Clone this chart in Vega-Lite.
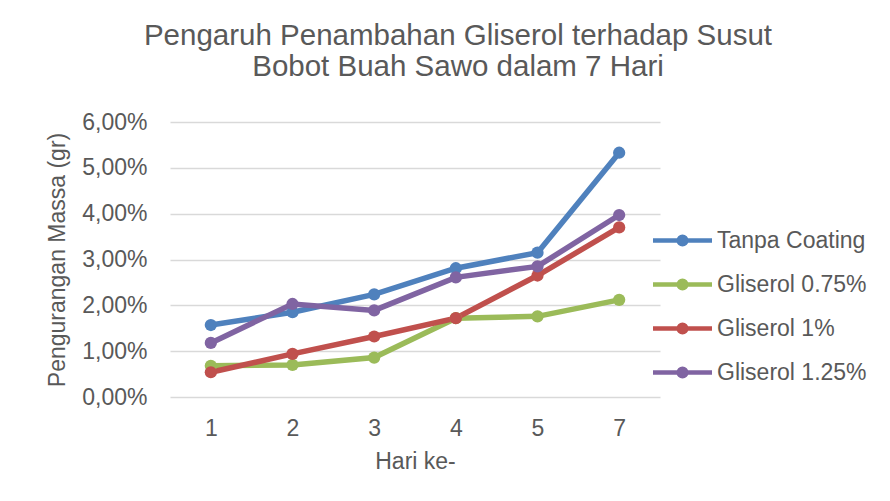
{
  "$schema": "https://vega.github.io/schema/vega-lite/v6.json",
  "width": 490,
  "height": 275,
  "autosize": {"type": "none"},
  "padding": {"left": 170, "top": 122, "right": 230, "bottom": 104},
  "background": "white",
  "title": {
    "text": ["Pengaruh Penambahan Gliserol terhadap Susut", "Bobot Buah Sawo dalam 7 Hari"],
    "fontSize": 29.5,
    "lineHeight": 31,
    "font": "Liberation Sans",
    "fontWeight": "normal",
    "color": "#595959",
    "anchor": "middle",
    "dx": 43,
    "offset": 29
  },
  "config": {
    "font": "Liberation Sans",
    "view": {"stroke": null},
    "axis": {
      "labelFont": "Liberation Sans",
      "titleFont": "Liberation Sans",
      "labelColor": "#595959",
      "titleColor": "#595959",
      "labelFontSize": 23,
      "titleFontSize": 23,
      "titleFontWeight": "normal",
      "domain": false,
      "ticks": false
    },
    "legend": {
      "labelFont": "Liberation Sans",
      "labelColor": "#595959",
      "labelFontSize": 23
    }
  },
  "data": {
    "values": [
      {"hari": "1", "seri": "Tanpa Coating", "nilai": 0.0157},
      {"hari": "2", "seri": "Tanpa Coating", "nilai": 0.0185},
      {"hari": "3", "seri": "Tanpa Coating", "nilai": 0.0224},
      {"hari": "4", "seri": "Tanpa Coating", "nilai": 0.0281},
      {"hari": "5", "seri": "Tanpa Coating", "nilai": 0.0315},
      {"hari": "7", "seri": "Tanpa Coating", "nilai": 0.0533},
      {"hari": "1", "seri": "Gliserol 0.75%", "nilai": 0.0068},
      {"hari": "2", "seri": "Gliserol 0.75%", "nilai": 0.0070},
      {"hari": "3", "seri": "Gliserol 0.75%", "nilai": 0.0086},
      {"hari": "4", "seri": "Gliserol 0.75%", "nilai": 0.0172},
      {"hari": "5", "seri": "Gliserol 0.75%", "nilai": 0.0176},
      {"hari": "7", "seri": "Gliserol 0.75%", "nilai": 0.0212},
      {"hari": "1", "seri": "Gliserol 1%", "nilai": 0.0054},
      {"hari": "2", "seri": "Gliserol 1%", "nilai": 0.0094},
      {"hari": "3", "seri": "Gliserol 1%", "nilai": 0.0132},
      {"hari": "4", "seri": "Gliserol 1%", "nilai": 0.0172},
      {"hari": "5", "seri": "Gliserol 1%", "nilai": 0.0265},
      {"hari": "7", "seri": "Gliserol 1%", "nilai": 0.0370},
      {"hari": "1", "seri": "Gliserol 1.25%", "nilai": 0.0118},
      {"hari": "2", "seri": "Gliserol 1.25%", "nilai": 0.0203},
      {"hari": "3", "seri": "Gliserol 1.25%", "nilai": 0.0189},
      {"hari": "4", "seri": "Gliserol 1.25%", "nilai": 0.0261},
      {"hari": "5", "seri": "Gliserol 1.25%", "nilai": 0.0285},
      {"hari": "7", "seri": "Gliserol 1.25%", "nilai": 0.0397}
    ]
  },
  "encoding": {
    "x": {
      "field": "hari",
      "type": "ordinal",
      "scale": {"type": "point", "padding": 0.5},
      "axis": {"title": "Hari ke-", "labelAngle": 0, "labelPadding": 20, "titlePadding": 10, "grid": false}
    },
    "y": {
      "field": "nilai",
      "type": "quantitative",
      "scale": {"domain": [0, 0.06], "nice": false},
      "axis": {
        "title": "Pengurangan Massa (gr)",
        "values": [0, 0.01, 0.02, 0.03, 0.04, 0.05, 0.06],
        "labelExpr": "replace(format(datum.value, '.2%'), '.', ',')",
        "labelPadding": 23,
        "titlePadding": 12,
        "grid": true,
        "gridColor": "#d9d9d9",
        "gridWidth": 1.5
      }
    },
    "color": {
      "field": "seri",
      "type": "nominal",
      "scale": {
        "domain": ["Tanpa Coating", "Gliserol 0.75%", "Gliserol 1%", "Gliserol 1.25%"],
        "range": ["#4F81BD", "#9BBB59", "#C0504D", "#8064A2"]
      },
      "legend": {
        "title": null,
        "orient": "none",
        "legendX": 500,
        "legendY": 106,
        "padding": 0,
        "rowPadding": 17,
        "labelOffset": 22,
        "symbolType": "M-2.95,0L2.95,0M-0.38,0A0.38,0.38 0 1,1 0.38,0A0.38,0.38 0 1,1 -0.38,0",
        "symbolSize": 400,
        "symbolStrokeWidth": 4.5,
        "symbolFillColor": "transparent"
      }
    }
  },
  "layer": [
    {"mark": {"type": "line", "strokeWidth": 5.5}},
    {"mark": {"type": "point", "filled": true, "size": 150, "opacity": 1}, "encoding": {"color": {"field": "seri", "type": "nominal", "legend": null}}}
  ]
}
